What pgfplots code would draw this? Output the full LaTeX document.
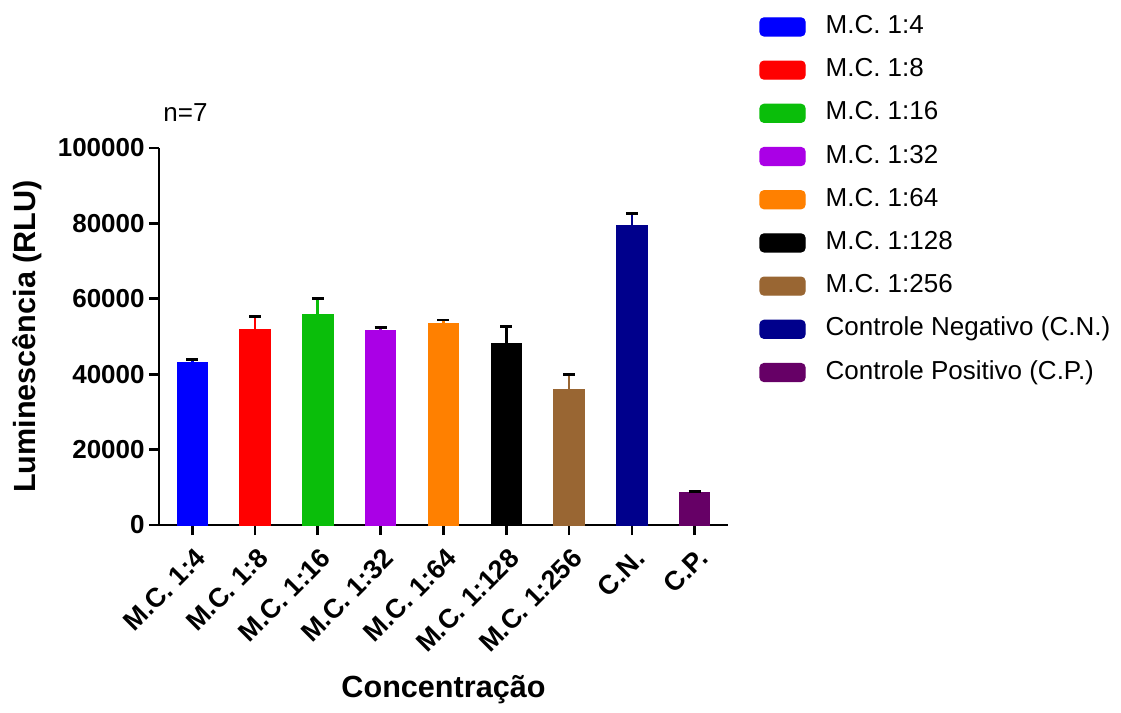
\documentclass[border=0pt]{standalone}
\usepackage{pgfplots}
\pgfplotsset{compat=1.18}
\usepackage{fontspec}
\setmainfont{Liberation Sans}
\definecolor{cA}{RGB}{0,0,255}
\definecolor{cB}{RGB}{255,0,0}
\definecolor{cC}{RGB}{10,190,10}
\definecolor{cD}{RGB}{170,0,230}
\definecolor{cE}{RGB}{255,128,0}
\definecolor{cF}{RGB}{0,0,0}
\definecolor{cG}{RGB}{153,102,51}
\definecolor{cH}{RGB}{0,0,140}
\definecolor{cI}{RGB}{102,0,102}
\begin{document}
\begin{tikzpicture}
\useasboundingbox (0,0) rectangle (560.5pt,356.5pt);
\begin{axis}[
  at={(79.5pt,94pt)}, anchor=south west,
  scale only axis, width=284.5pt, height=188.5pt,
  clip=false,
  xmin=-0.53, xmax=8.53, ymin=0, ymax=100000,
  axis lines*=left,
  axis line style={line width=1.4pt},
  major tick style={line width=1.4pt, black},
  tick align=outside, major tick length=5pt,
  xtick={0,...,8},
  xticklabels={M.C. 1:4, M.C. 1:8, M.C. 1:16, M.C. 1:32, M.C. 1:64, M.C. 1:128, M.C. 1:256, C.N., C.P.},
  ytick={0,20000,40000,60000,80000,100000},
  yticklabels={0,20000,40000,60000,80000,100000},
  scaled y ticks=false,
  tick label style={font=\bfseries\fontsize{13}{13}\selectfont},
  xticklabel style={rotate=45, anchor=north east, inner sep=1pt, xshift=-2.5pt, yshift=-3.5pt, font=\bfseries\fontsize{13.4}{13.4}\selectfont},
  yticklabel style={inner sep=2pt},
  ylabel={Luminescência (RLU)},
  xlabel={Concentração},
  label style={font=\bfseries\fontsize{15.3}{15.3}\selectfont},
  ylabel style={at={(axis description cs:-0.232,0.5)}, anchor=center},
  xlabel style={at={(axis description cs:0.5,-0.438)}, anchor=center},
  ybar, bar width=0.48, bar shift=0pt,
  every axis plot/.append style={line width=0.6pt},
  error bars/y dir=plus, error bars/y explicit,
  error bars/error bar style={line width=1.4pt},
  error bars/error mark options={rotate=90, mark size=3pt, line width=1.4pt},
  legend image code/.code={\fill[rounded corners=2pt] (0pt,-4.5pt) rectangle (22.5pt,4.5pt);},
  legend cell align=left,
  legend style={at={(axis description cs:1.044,1.366)}, anchor=north west,
    draw=none, fill=none, row sep=9.1pt, column sep=10pt,
    font=\fontsize{13}{13}\selectfont,
    nodes={inner sep=0pt, text height=9.5pt, text depth=3pt}},
]
\addplot[fill=cA, draw=cA] coordinates {(0,43200) +- (0,800)};
\addlegendentry{M.C. 1:4}
\addplot[fill=cB, draw=cB] coordinates {(1,51900) +- (0,3350)};
\addlegendentry{M.C. 1:8}
\addplot[fill=cC, draw=cC] coordinates {(2,55700) +- (0,4400)};
\addlegendentry{M.C. 1:16}
\addplot[fill=cD, draw=cD] coordinates {(3,51500) +- (0,900)};
\addlegendentry{M.C. 1:32}
\addplot[fill=cE, draw=cE] coordinates {(4,53500) +- (0,900)};
\addlegendentry{M.C. 1:64}
\addplot[fill=cF, draw=cF] coordinates {(5,48000) +- (0,4600)};
\addlegendentry{M.C. 1:128}
\addplot[fill=cG, draw=cG] coordinates {(6,36000) +- (0,4000)};
\addlegendentry{M.C. 1:256}
\addplot[fill=cH, draw=cH] coordinates {(7,79300) +- (0,3400)};
\addlegendentry{Controle Negativo (C.N.)}
\addplot[fill=cI, draw=cI] coordinates {(8,8600) +- (0,200)};
\addlegendentry{Controle Positivo (C.P.)}
\node[anchor=west, font=\fontsize{13}{13}\selectfont, inner sep=0pt] at (axis description cs:0.007,1.095) {n=7};
\end{axis}
\end{tikzpicture}
\end{document}
